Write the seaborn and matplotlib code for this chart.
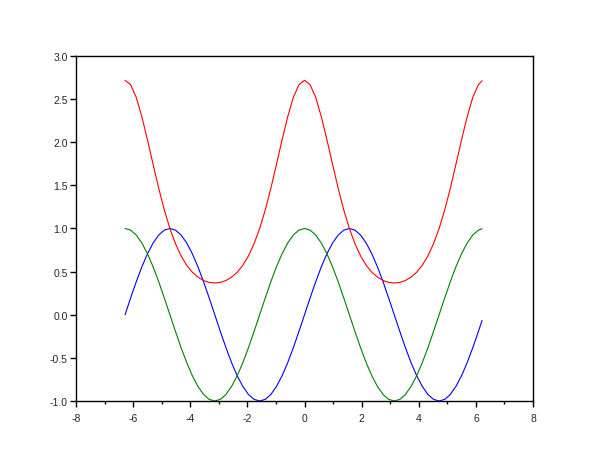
import pandas as pd
import matplotlib
matplotlib.use('Agg')
import matplotlib.pyplot as plt
import seaborn as sns
from matplotlib.ticker import MultipleLocator

# sample positions (about pi/16 apart)
x = [-6.283, -6.087, -5.890, -5.694, -5.498, -5.301, -5.105, -4.909,
     -4.712, -4.516, -4.320, -4.123, -3.927, -3.731, -3.534, -3.338,
     -3.142, -2.945, -2.749, -2.553, -2.356, -2.160, -1.963, -1.767,
     -1.571, -1.374, -1.178, -0.982, -0.785, -0.589, -0.393, -0.196,
     0.0, 0.196, 0.393, 0.589, 0.785, 0.982, 1.178, 1.374,
     1.571, 1.767, 1.963, 2.160, 2.356, 2.553, 2.749, 2.945,
     3.142, 3.338, 3.534, 3.731, 3.927, 4.123, 4.320, 4.516,
     4.712, 4.909, 5.105, 5.301, 5.498, 5.694, 5.890, 6.087, 6.217]

blue = [0.0, 0.195, 0.383, 0.556, 0.707, 0.831, 0.924, 0.981,
        1.0, 0.981, 0.924, 0.831, 0.707, 0.556, 0.383, 0.195,
        0.0, -0.195, -0.383, -0.556, -0.707, -0.831, -0.924, -0.981,
        -1.0, -0.981, -0.924, -0.831, -0.707, -0.556, -0.383, -0.195,
        0.0, 0.195, 0.383, 0.556, 0.707, 0.831, 0.924, 0.981,
        1.0, 0.981, 0.924, 0.831, 0.707, 0.556, 0.383, 0.195,
        0.0, -0.195, -0.383, -0.556, -0.707, -0.831, -0.924, -0.981,
        -1.0, -0.981, -0.924, -0.831, -0.707, -0.556, -0.383, -0.195, -0.066]

green = [1.0, 0.981, 0.924, 0.831, 0.707, 0.556, 0.383, 0.195,
         0.0, -0.195, -0.383, -0.556, -0.707, -0.831, -0.924, -0.981,
         -1.0, -0.981, -0.924, -0.831, -0.707, -0.556, -0.383, -0.195,
         0.0, 0.195, 0.383, 0.556, 0.707, 0.831, 0.924, 0.981,
         1.0, 0.981, 0.924, 0.831, 0.707, 0.556, 0.383, 0.195,
         0.0, -0.195, -0.383, -0.556, -0.707, -0.831, -0.924, -0.981,
         -1.0, -0.981, -0.924, -0.831, -0.707, -0.556, -0.383, -0.195,
         0.0, 0.195, 0.383, 0.556, 0.707, 0.831, 0.924, 0.981, 0.998]

red = [2.718, 2.667, 2.519, 2.295, 2.028, 1.744, 1.467, 1.215,
       1.0, 0.823, 0.682, 0.573, 0.493, 0.436, 0.397, 0.375,
       0.368, 0.375, 0.397, 0.436, 0.493, 0.573, 0.682, 0.823,
       1.0, 1.215, 1.467, 1.744, 2.028, 2.295, 2.519, 2.667,
       2.718, 2.667, 2.519, 2.295, 2.028, 1.744, 1.467, 1.215,
       1.0, 0.823, 0.682, 0.573, 0.493, 0.436, 0.397, 0.375,
       0.368, 0.375, 0.397, 0.436, 0.493, 0.573, 0.682, 0.823,
       1.0, 1.215, 1.467, 1.744, 2.028, 2.295, 2.519, 2.667, 2.713]

df = pd.DataFrame({'x': x, 'blue': blue, 'green': green, 'red': red})

sns.set_style('ticks')
plt.rcParams['font.family'] = ['Liberation Sans', 'DejaVu Sans']
plt.rcParams['axes.unicode_minus'] = False

fig = plt.figure(figsize=(6.1, 4.6), dpi=100)
ax = fig.add_axes([0.1246, 0.1261, 0.7492, 0.7500])

sns.lineplot(x='x', y='blue', data=df, color='#0000ff', lw=0.8, ax=ax, sort=False)
sns.lineplot(x='x', y='green', data=df, color='#008000', lw=0.8, ax=ax, sort=False)
sns.lineplot(x='x', y='red', data=df, color='#ff0000', lw=0.8, ax=ax, sort=False)

ax.set_xlim(-8, 8)
ax.set_ylim(-1, 3)
ax.xaxis.set_major_locator(MultipleLocator(2))
ax.xaxis.set_minor_locator(MultipleLocator(1))
ax.yaxis.set_major_locator(MultipleLocator(0.5))
ax.set_yticklabels([f'{v:.1f}' for v in ax.get_yticks()])
ax.set_xlabel('')
ax.set_ylabel('')
for s in ax.spines.values():
    s.set_linewidth(1.0)
    s.set_color('black')
ax.tick_params(which='major', length=4, width=1, labelsize=7.5, color='black')
ax.tick_params(axis='x', which='major', pad=5)
ax.tick_params(axis='y', which='major', pad=2)
ax.tick_params(which='minor', length=2, width=1, color='black')
ax.tick_params(axis='y', which='minor', length=0)

fig.savefig('out.png', dpi=100, facecolor='white')
